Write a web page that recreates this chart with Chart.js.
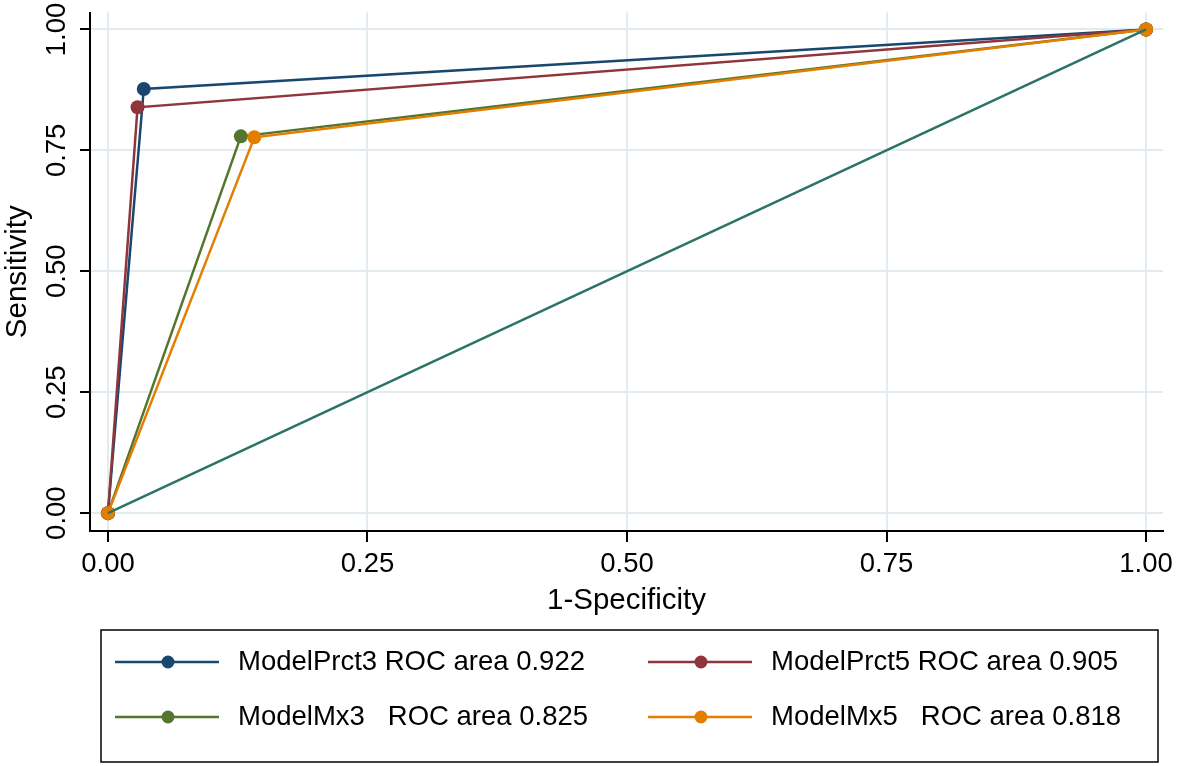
<!DOCTYPE html>
<html>
<head>
<meta charset="utf-8">
<script src="https://cdn.jsdelivr.net/npm/chart.js@4.4.1/dist/chart.umd.min.js"></script>
<style>
  body { margin: 0; background: #fff; }
  #wrap { width: 1179px; height: 766px; }
</style>
</head>
<body>
<div id="wrap"><canvas id="rocChart" width="1179" height="766"></canvas></div>
<script>
// ROC points (1-specificity, sensitivity)
const prct3X = [0, 0.0345, 1];
const prct3Y = [0, 0.877, 1];
const prct5X = [0, 0.0285, 1];
const prct5Y = [0, 0.839, 1];
const mx3X = [0, 0.128, 1];
const mx3Y = [0, 0.779, 1];
const mx5X = [0, 0.141, 1];
const mx5Y = [0, 0.777, 1];
const refX = [0, 1];
const refY = [0, 1];

const modelNames = ["ModelPrct3 ROC area 0.922", "ModelPrct5 ROC area 0.905", "ModelMx3   ROC area 0.825", "ModelMx5   ROC area 0.818"];
const tickValues = [0, 0.25, 0.5, 0.75, 1];

const colors = ["#1a476f", "#90353b", "#55752f", "#e37e00"];
const refColor = "#2b7366";

function pts(xs, ys) {
  return xs.map((x, i) => ({ x: x, y: ys[i] }));
}

function modelSet(label, xs, ys, color, order) {
  return {
    label: label,
    data: pts(xs, ys),
    borderColor: color,
    backgroundColor: color,
    borderWidth: 2.5,
    pointRadius: 7,
    pointBorderWidth: 0,
    pointHoverRadius: 7,
    tension: 0,
    order: order
  };
}

// legend drawn in a box below the plot, two columns like Stata
const boxLegend = {
  id: 'boxLegend',
  afterDraw(chart) {
    const ctx = chart.ctx;
    ctx.save();
    ctx.strokeStyle = "#000";
    ctx.lineWidth = 1.5;
    ctx.strokeRect(101, 630, 1057, 132);

    const colX = [115, 648];
    const rowY = [662, 717];
    chart.data.datasets.forEach((ds) => {
      if (!ds.inLegend) return;
      const n = ds.legendIndex;
      const x = colX[n % 2];
      const y = rowY[Math.floor(n / 2)];
      ctx.strokeStyle = ds.borderColor;
      ctx.lineWidth = 2.5;
      ctx.beginPath();
      ctx.moveTo(x, y);
      ctx.lineTo(x + 104, y);
      ctx.stroke();
      ctx.fillStyle = ds.borderColor;
      ctx.beginPath();
      ctx.arc(x + 53, y, 6.5, 0, Math.PI * 2);
      ctx.fill();
      ctx.fillStyle = "#000";
      ctx.font = "27.5px 'Liberation Sans', Arial, sans-serif";
      ctx.textBaseline = "middle";
      ctx.textAlign = "left";
      ctx.fillText(ds.label, x + 123, y);
    });
    ctx.restore();
  }
};

const datasets = [
  modelSet(modelNames[0], prct3X, prct3Y, colors[0], 4),
  modelSet(modelNames[1], prct5X, prct5Y, colors[1], 3),
  modelSet(modelNames[2], mx3X, mx3Y, colors[2], 2),
  modelSet(modelNames[3], mx5X, mx5Y, colors[3], 1),
  {
    label: "Reference",
    data: pts(refX, refY),
    borderColor: refColor,
    backgroundColor: refColor,
    borderWidth: 2.5,
    pointRadius: 0,
    order: 0
  }
];
datasets.slice(0, 4).forEach((d, i) => { d.inLegend = true; d.legendIndex = i; });

const tickFont = { family: "'Liberation Sans', Arial, sans-serif", size: 27.5 };
const titleFont = { family: "'Liberation Sans', Arial, sans-serif", size: 29.5 };

new Chart(document.getElementById('rocChart'), {
  type: 'line',
  data: { datasets: datasets },
  options: {
    responsive: false,
    animation: false,
    layout: { padding: { top: 8, right: 11, bottom: 140, left: 0 } },
    plugins: {
      legend: { display: false },
      tooltip: { enabled: false }
    },
    scales: {
      x: {
        type: 'linear',
        min: -0.0173,
        max: 1.0163,
        afterBuildTicks: s => { s.ticks = tickValues.map(v => ({ value: v })); },
        afterFit: s => { s.height = 95; },
        ticks: {
          color: "#000",
          font: tickFont,
          padding: 6,
          maxRotation: 0,
          callback: v => Number(v).toFixed(2)
        },
        grid: { color: "#e2ecf0", lineWidth: 2, tickColor: "#000", tickLength: 11, tickWidth: 2 },
        border: { display: true, color: "#000", width: 2 },
        title: { display: true, text: "1-Specificity", color: "#000", font: titleFont, padding: { top: 0, bottom: 7 } }
      },
      y: {
        type: 'linear',
        min: -0.0369,
        max: 1.035,
        afterBuildTicks: s => { s.ticks = tickValues.map(v => ({ value: v })); },
        afterFit: s => { s.width = 90; },
        ticks: {
          color: "#000",
          font: tickFont,
          padding: -4,
          minRotation: 90,
          maxRotation: 90,
          crossAlign: 'center',
          callback: v => Number(v).toFixed(2)
        },
        grid: { color: "#e2ecf0", lineWidth: 2, tickColor: "#000", tickLength: 10, tickWidth: 2 },
        border: { display: true, color: "#000", width: 2 },
        title: { display: true, text: "Sensitivity", color: "#000", font: titleFont, padding: { top: 0, bottom: 0 } }
      }
    }
  },
  plugins: [boxLegend]
});
</script>
</body>
</html>
